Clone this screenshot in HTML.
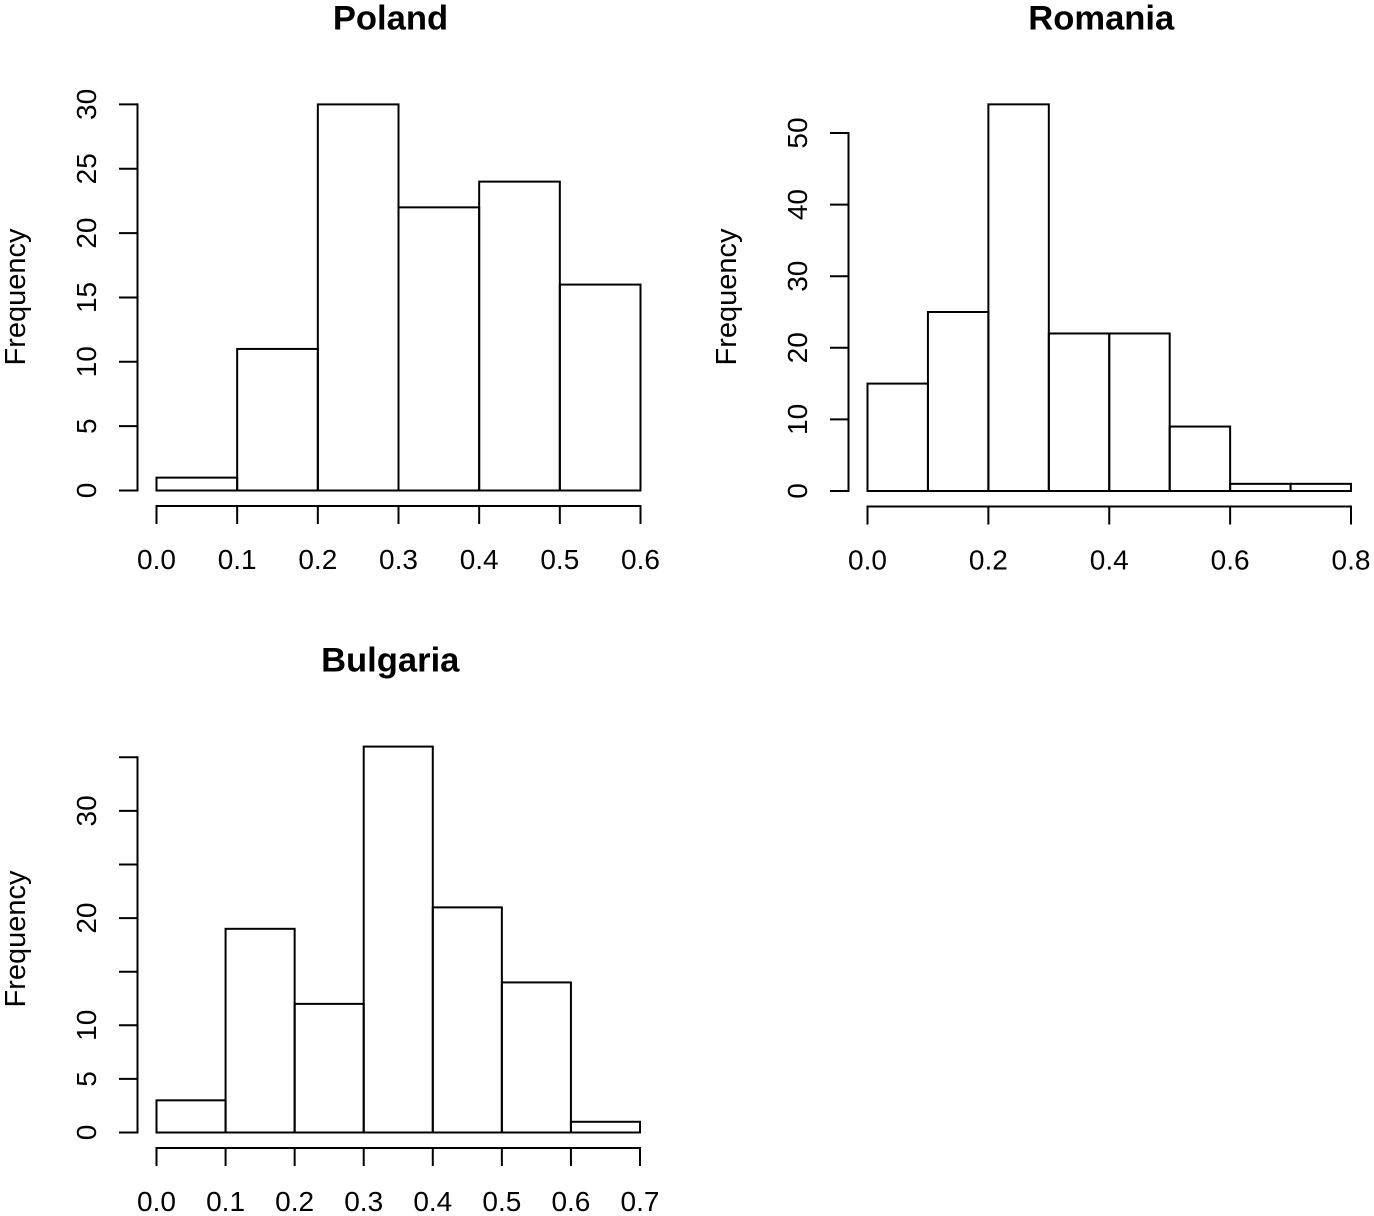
<!DOCTYPE html>
<html>
<head>
<meta charset="utf-8">
<title>Histograms</title>
<style>
html,body{margin:0;padding:0;background:#fff;}
svg{display:block;}
text{font-family:"Liberation Sans",Arial,sans-serif;fill:#000;}
</style>
</head>
<body>
<svg id="chart" xmlns="http://www.w3.org/2000/svg" width="1374" height="1216" viewBox="0 0 1374 1216"></svg>
<script>
// Poland
const polandCounts = [1, 11, 30, 22, 24, 16];
const polandBreaks = [0, 0.1, 0.2, 0.3, 0.4, 0.5, 0.6];
const polandXTicks = ["0.0", "0.1", "0.2", "0.3", "0.4", "0.5", "0.6"];
const polandYTicks = [0, 5, 10, 15, 20, 25, 30];
const polandYLabels = ["0", "5", "10", "15", "20", "25", "30"];
// Romania
const romaniaCounts = [15, 25, 54, 22, 22, 9, 1, 1];
const romaniaBreaks = [0, 0.1, 0.2, 0.3, 0.4, 0.5, 0.6, 0.7, 0.8];
const romaniaXTicks = ["0.0", "0.2", "0.4", "0.6", "0.8"];
const romaniaYTicks = [0, 10, 20, 30, 40, 50];
const romaniaYLabels = ["0", "10", "20", "30", "40", "50"];
// Bulgaria
const bulgariaCounts = [3, 19, 12, 36, 21, 14, 1];
const bulgariaBreaks = [0, 0.1, 0.2, 0.3, 0.4, 0.5, 0.6, 0.7];
const bulgariaXTicks = ["0.0", "0.1", "0.2", "0.3", "0.4", "0.5", "0.6", "0.7"];
const bulgariaYTicks = [0, 5, 10, 15, 20, 25, 30, 35];
const bulgariaYLabels = ["0", "5", "10", "", "20", "", "30", ""];

const svg = document.getElementById('chart');
const NS = 'http://www.w3.org/2000/svg';

function make(tag, attrs, parent) {
  const el = document.createElementNS(NS, tag);
  for (const k in attrs) el.setAttribute(k, attrs[k]);
  parent.appendChild(el);
  return el;
}

function drawPanel(slug, title, counts, breaks, xTicks, yTicks, yLabels, box) {
  const scaleX = v => box.left + (v - box.xMin) / (box.xMax - box.xMin) * (box.right - box.left);
  const scaleY = v => box.base - v * box.unit;
  const line = {stroke: '#000', 'stroke-width': 2, 'stroke-linecap': 'butt', fill: 'none'};

  const g = make('g', {}, svg);
  
  

  const t = make('text', {x: (box.left + box.right) / 2 + box.titleDx, y: box.top - 74.4, 'text-anchor': 'middle', 'font-size': 34.6, 'font-weight': 'bold'}, g);
  t.textContent = title;
  
  

  counts.forEach((c, i) => {
    const x0 = scaleX(breaks[i]);
    const x1 = scaleX(breaks[i + 1]);
    const r = make('rect', Object.assign({x: x0, y: scaleY(c), width: x1 - x0, height: c * box.unit}, line), g);
    
    
  });

  // x axis
  const xAxisY = box.base + 15.5;
  const xAxis = make('g', {}, g);
  
  
  const xVals = xTicks.map(Number);
  make('line', Object.assign({x1: scaleX(xVals[0]) - 1, x2: scaleX(xVals[xVals.length - 1]) + 1, y1: xAxisY, y2: xAxisY}, line), xAxis);
  xVals.forEach((v, i) => {
    const x = scaleX(v);
    make('line', Object.assign({x1: x, x2: x, y1: xAxisY, y2: xAxisY + 18}, line), xAxis);
    const lab = make('text', {x: x, y: box.base + 78.5, 'text-anchor': 'middle', 'font-size': 28}, xAxis);
    lab.textContent = xTicks[i];
    
    
  });

  // y axis
  const yAxisX = box.left - 19;
  const yAxis = make('g', {}, g);
  
  
  make('line', Object.assign({x1: yAxisX, x2: yAxisX, y1: scaleY(yTicks[0]) + 1, y2: scaleY(yTicks[yTicks.length - 1]) - 1}, line), yAxis);
  yTicks.forEach((v, i) => {
    const y = scaleY(v);
    make('line', Object.assign({x1: yAxisX - 18.5, x2: yAxisX, y1: y, y2: y}, line), yAxis);
    if (yLabels[i]) {
      const tx = yAxisX - 41.5;
      const lab = make('text', {x: tx, y: y, transform: 'rotate(-90 ' + tx + ' ' + y + ')', 'text-anchor': 'middle', 'font-size': 28}, yAxis);
      lab.textContent = yLabels[i];
      
      
    }
  });

  const fx = box.left - 131.5;
  const fy = box.top + 193;
  const yt = make('text', {x: fx, y: fy, transform: 'rotate(-90 ' + fx + ' ' + fy + ')', 'text-anchor': 'middle', 'font-size': 29}, g);
  yt.textContent = 'Frequency';
  
  
}

drawPanel('poland', 'Poland', polandCounts, polandBreaks, polandXTicks, polandYTicks, polandYLabels,
  {left: 156.5, right: 640.5, xMin: 0, xMax: 0.6, base: 490.5, unit: 12.87, top: 104, titleDx: -8});
drawPanel('romania', 'Romania', romaniaCounts, romaniaBreaks, romaniaXTicks, romaniaYTicks, romaniaYLabels,
  {left: 867.5, right: 1351, xMin: 0, xMax: 0.8, base: 491, unit: 7.16, top: 104, titleDx: -8});
drawPanel('bulgaria', 'Bulgaria', bulgariaCounts, bulgariaBreaks, bulgariaXTicks, bulgariaYTicks, bulgariaYLabels,
  {left: 156.5, right: 640, xMin: 0, xMax: 0.7, base: 1132.5, unit: 10.72, top: 746, titleDx: -8});
</script>
</body>
</html>
